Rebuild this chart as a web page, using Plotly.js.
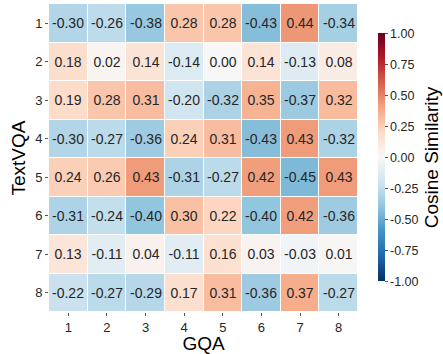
<!DOCTYPE html>
<html>
<head>
<meta charset="utf-8">
<script src="https://cdn.plot.ly/plotly-3.0.1.min.js"></script>
<style>html,body{margin:0;padding:0;background:#fff;}#chart{width:443px;height:354px;}</style>
</head>
<body>
<div id="chart"></div>
<script>
const gqaLabels = ['1','2','3','4','5','6','7','8'];
const textvqaLabels = ['1','2','3','4','5','6','7','8'];
const row1 = [-0.30, -0.26, -0.38, 0.28, 0.28, -0.43, 0.44, -0.34];
const row2 = [0.18, 0.02, 0.14, -0.14, 0.00, 0.14, -0.13, 0.08];
const row3 = [0.19, 0.28, 0.31, -0.20, -0.32, 0.35, -0.37, 0.32];
const row4 = [-0.30, -0.27, -0.36, 0.24, 0.31, -0.43, 0.43, -0.32];
const row5 = [0.24, 0.26, 0.43, -0.31, -0.27, 0.42, -0.45, 0.43];
const row6 = [-0.31, -0.24, -0.40, 0.30, 0.22, -0.40, 0.42, -0.36];
const row7 = [0.13, -0.11, 0.04, -0.11, 0.16, 0.03, -0.03, 0.01];
const row8 = [-0.22, -0.27, -0.29, 0.17, 0.31, -0.36, 0.37, -0.27];
const zValues = [row1, row2, row3, row4, row5, row6, row7, row8];
const cbTickVals = [-1, -0.75, -0.5, -0.25, 0, 0.25, 0.5, 0.75, 1];
const cbTickText = ['-1.00','-0.75','-0.50','-0.25','0.00','0.25','0.50','0.75','1.00'];

const rdbuColors = ['#053061','#2166ac','#4393c3','#92c5de','#d1e5f0','#f7f7f7','#fddbc7','#f4a582','#d6604d','#b2182b','#67001f'];
const colorscale = rdbuColors.map((c, i) => [i / (rdbuColors.length - 1), c]);

const font = 'Liberation Sans, Arial, sans-serif';

const trace = {
  type: 'heatmap',
  x: gqaLabels,
  y: textvqaLabels,
  z: zValues,
  zmin: -1, zmax: 1,
  colorscale: colorscale,
  xgap: 1, ygap: 1,
  texttemplate: '%{z:.2f}',
  textfont: {family: font, size: 14, color: '#262626'},
  colorbar: {
    thickness: 7,
    len: 248, lenmode: 'pixels',
    x: 378/443, xref: 'container', xanchor: 'left', xpad: 0,
    y: 173/354, yref: 'container', yanchor: 'middle', ypad: 0,
    outlinewidth: 0,
    ticks: 'outside', ticklen: 3, tickcolor: '#555',
    tickvals: cbTickVals,
    ticktext: cbTickText,
    tickfont: {family: font, size: 12.5, color: '#262626'},
    title: {text: 'Cosine Similarity', side: 'right', font: {family: font, size: 19, color: '#000'}}
  }
};

const layout = {
  width: 443, height: 354,
  margin: {l: 49, r: 85, t: 4, b: 42},
  paper_bgcolor: '#fff', plot_bgcolor: '#fff',
  xaxis: {
    type: 'category', showgrid: false, zeroline: false,
    ticks: 'outside', ticklen: 3, tickcolor: '#555',
    tickfont: {family: font, size: 13, color: '#262626'},
    title: {text: 'GQA', font: {family: font, size: 19, color: '#000'}, standoff: 6}
  },
  yaxis: {
    type: 'category', autorange: 'reversed', showgrid: false, zeroline: false,
    ticks: 'outside', ticklen: 3, tickcolor: '#555',
    tickfont: {family: font, size: 13, color: '#262626'},
    title: {text: 'TextVQA', font: {family: font, size: 19, color: '#000'}, standoff: 4}
  }
};

Plotly.newPlot('chart', [trace], layout, {displayModeBar: false, staticPlot: true});
</script>
</body>
</html>
